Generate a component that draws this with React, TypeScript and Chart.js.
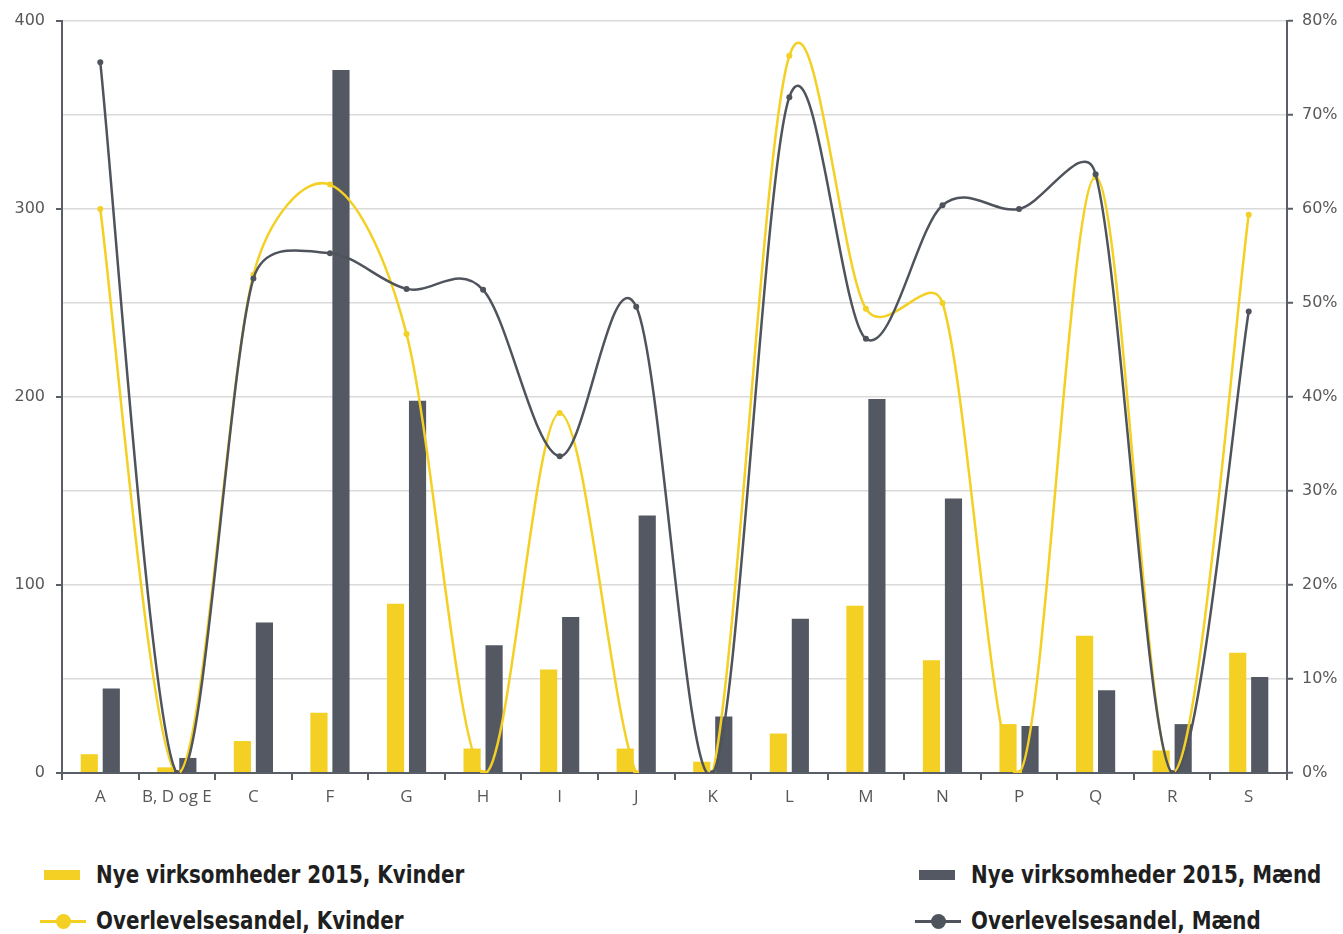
import React, { useEffect, useRef } from "react";
import { Chart, registerables } from "chart.js";

Chart.register(...registerables);

const categories = ["A", "B, D og E", "C", "F", "G", "H", "I", "J", "K", "L", "M", "N", "P", "Q", "R", "S"];
const nyeKvinder = [10, 3, 17, 32, 90, 13, 55, 13, 6, 21, 89, 60, 26, 73, 12, 64];
const nyeMaend = [45, 8, 80, 374, 198, 68, 83, 137, 30, 82, 199, 146, 25, 44, 26, 51];
const overlevKvinder = [60, 0, 53, 62.6, 46.7, 0, 38.3, 0, 0, 76.3, 49.4, 50, 0, 63.4, 0, 59.4];
const overlevMaend = [75.6, 0, 52.6, 55.3, 51.5, 51.4, 33.7, 49.6, 0, 71.9, 46.2, 60.4, 60, 63.7, 0, 49.1];
const leftTicks = [0, 100, 200, 300, 400];
const rightTicks = [0, 10, 20, 30, 40, 50, 60, 70, 80];

const YELLOW = "#f3d023";
const GRAY = "#535862";
const LINE_GRAY = "#4f545c";
const AXIS = "#5a5f67";
const GRID = "#dadada";
const TICK_FONT = { family: "'DejaVu Sans', sans-serif", size: 16 };

const legendFont = "'DejaVu Sans Condensed', 'DejaVu Sans', sans-serif";

const dist = (a: any, b: any) => Math.hypot(b.x - a.x, b.y - a.y);

// Excel-like smoothed line: Catmull-Rom arms (1/6) limited to half the segment length
const smoothPlugin = {
  id: "excelSmooth",
  beforeDatasetDraw(chart: any, args: any) {
    const meta = args.meta;
    if (meta.type !== "line") return;
    const pts = meta.data;
    const n = pts.length;
    for (let i = 0; i < n - 1; i++) {
      const p1 = pts[i];
      const p2 = pts[i + 1];
      const p0 = i > 0 ? pts[i - 1] : p1;
      const p3 = i + 2 < n ? pts[i + 2] : p2;
      const d12 = dist(p1, p2);
      const d02 = dist(p0, p2);
      const d13 = dist(p1, p3);
      const f = 1 / 6;
      const f0 = d02 > 0 && d02 * f > d12 / 2 ? d12 / (2 * d02) : f;
      const f1 = d13 > 0 && d13 * f > d12 / 2 ? d12 / (2 * d13) : f;
      p1.cp2x = p1.x + (p2.x - p0.x) * f0;
      p1.cp2y = p1.y + (p2.y - p0.y) * f0;
      p2.cp1x = p2.x - (p3.x - p1.x) * f1;
      p2.cp1y = p2.y - (p3.y - p1.y) * f1;
    }
    if (n) {
      pts[0].cp1x = pts[0].x;
      pts[0].cp1y = pts[0].y;
      pts[n - 1].cp2x = pts[n - 1].x;
      pts[n - 1].cp2y = pts[n - 1].y;
    }
    if (meta.dataset) {
      meta.dataset._pointsUpdated = true;
      meta.dataset._path = undefined;
    }
  },
};

function App() {
  const ref = useRef<HTMLCanvasElement | null>(null);

  useEffect(() => {
    document.body.style.margin = "0";
    const ctx = ref.current;
    if (!ctx) return;
    const chart = new Chart(ctx, {
      data: {
        labels: categories,
        datasets: [
          {
            type: "line",
            label: "Overlevelsesandel, Mænd",
            data: overlevMaend,
            yAxisID: "yR",
            borderColor: LINE_GRAY,
            backgroundColor: LINE_GRAY,
            borderWidth: 2.5,
            pointRadius: 3,
            pointBorderWidth: 0,
            tension: 0.4,
            order: 0,
          },
          {
            type: "line",
            label: "Overlevelsesandel, Kvinder",
            data: overlevKvinder,
            yAxisID: "yR",
            borderColor: YELLOW,
            backgroundColor: YELLOW,
            borderWidth: 2.5,
            pointRadius: 3,
            pointBorderWidth: 0,
            tension: 0.4,
            order: 1,
          },
          {
            type: "bar",
            label: "Nye virksomheder 2015, Kvinder",
            data: nyeKvinder,
            yAxisID: "yL",
            backgroundColor: YELLOW,
            categoryPercentage: 0.575,
            barPercentage: 0.78,
            order: 2,
          },
          {
            type: "bar",
            label: "Nye virksomheder 2015, Mænd",
            data: nyeMaend,
            yAxisID: "yL",
            backgroundColor: GRAY,
            categoryPercentage: 0.575,
            barPercentage: 0.78,
            order: 3,
          },
        ],
      } as any,
      plugins: [smoothPlugin],
      options: {
        animation: false,
        responsive: false,
        maintainAspectRatio: false,
        layout: { padding: { top: 21, left: 0, right: 0, bottom: 0 } },
        plugins: { legend: { display: false }, tooltip: { enabled: false } },
        scales: {
          x: {
            offset: true,
            grid: {
              display: true,
              drawOnChartArea: false,
              drawTicks: true,
              tickLength: 7,
              color: AXIS,
              lineWidth: 2,
              offset: true,
            },
            border: { display: true, color: AXIS, width: 2 },
            ticks: {
              color: "#585858",
              font: { family: "'Open Sans', sans-serif", size: 17 },
              padding: 7,
              maxRotation: 0,
              autoSkip: false,
            },
            afterFit: (s: any) => {
              s.height = 57;
            },
          },
          yL: {
            position: "left",
            min: 0,
            max: 400,
            afterBuildTicks: (s: any) => {
              s.ticks = leftTicks.map((v) => ({ value: v }));
            },
            grid: {
              drawOnChartArea: false,
              drawTicks: true,
              tickLength: 6,
              color: AXIS,
              lineWidth: 2,
            },
            border: { display: true, color: AXIS, width: 2 },
            ticks: { color: "#585858", font: TICK_FONT, padding: 11 },
            afterFit: (s: any) => {
              s.width = 62;
            },
          },
          yR: {
            position: "right",
            min: 0,
            max: 80,
            afterBuildTicks: (s: any) => {
              s.ticks = rightTicks.map((v) => ({ value: v }));
            },
            grid: {
              drawOnChartArea: true,
              drawTicks: true,
              tickLength: 6,
              color: GRID,
              tickColor: AXIS,
              lineWidth: 1.5,
              tickWidth: 2,
            } as any,
            border: { display: true, color: AXIS, width: 2 },
            ticks: {
              color: "#585858",
              font: TICK_FONT,
              padding: 9,
              callback: (v: any) => v + "%",
            },
            afterFit: (s: any) => {
              s.width = 56;
            },
          },
        },
      } as any,
    });
    return () => chart.destroy();
  }, []);

  const txt: React.CSSProperties = {
    fontFamily: legendFont,
    fontWeight: 700,
    fontSize: 25,
    color: "#1f1f1f",
    whiteSpace: "nowrap",
    position: "absolute",
    lineHeight: "30px",
    transform: "scaleX(0.885)",
    transformOrigin: "left center",
  };

  return (
    <div style={{ position: "relative", width: 1343, height: 934, overflow: "hidden", background: "#fff" }}>
      <canvas ref={ref} width={1343} height={830} style={{ display: "block" }} />
      <div style={{ position: "absolute", left: 44, top: 870, width: 36, height: 10, background: YELLOW }} />
      <div style={{ ...txt, left: 96, top: 860 }}>Nye virksomheder 2015, Kvinder</div>
      <div style={{ position: "absolute", left: 919, top: 870, width: 36, height: 10, background: GRAY }} />
      <div style={{ ...txt, left: 971, top: 860 }}>Nye virksomheder 2015, Mænd</div>
      <div style={{ position: "absolute", left: 40, top: 920, width: 46, height: 3, background: YELLOW }} />
      <div style={{ position: "absolute", left: 56, top: 914, width: 15, height: 15, borderRadius: "50%", background: YELLOW }} />
      <div style={{ ...txt, left: 96, top: 906 }}>Overlevelsesandel, Kvinder</div>
      <div style={{ position: "absolute", left: 915, top: 920, width: 46, height: 3, background: LINE_GRAY }} />
      <div style={{ position: "absolute", left: 931, top: 914, width: 15, height: 15, borderRadius: "50%", background: LINE_GRAY }} />
      <div style={{ ...txt, left: 971, top: 906 }}>Overlevelsesandel, Mænd</div>
    </div>
  );
}

export default App;
